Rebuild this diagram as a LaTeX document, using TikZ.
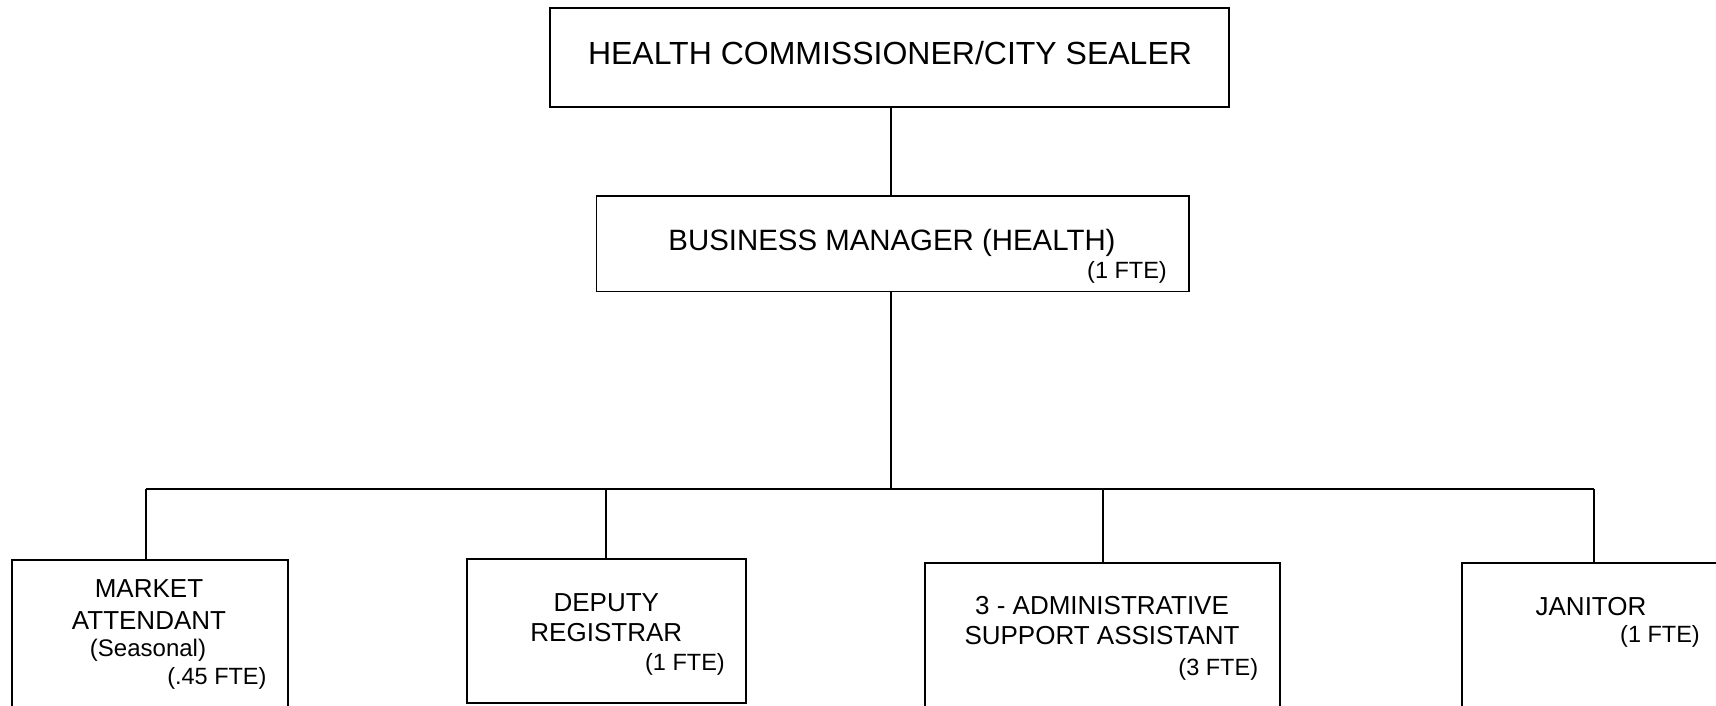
\documentclass[tikz,border=0pt]{standalone}
\usepackage{fontspec}
\setmainfont{Liberation Sans}
\begin{document}
\begin{tikzpicture}[x=1pt,y=-1pt,
  box/.style={draw=black,line width=1.8pt,rectangle,anchor=north west,inner sep=0pt,outer sep=0pt},
  conn/.style={draw=black,line width=1.8pt},
  ttl/.style={font=\fontsize{32}{37}\selectfont,inner sep=0pt,anchor=base},
  mgr/.style={font=\fontsize{29.4}{34}\selectfont,inner sep=0pt,anchor=base},
  lbl/.style={font=\fontsize{26}{30}\selectfont,inner sep=0pt,anchor=base},
  sml/.style={font=\fontsize{24}{28}\selectfont,inner sep=0pt,anchor=base},
  fte/.style={font=\fontsize{23.5}{28}\selectfont,inner sep=0pt,anchor=base east}]
\useasboundingbox (0,0) rectangle (1716,705);
\clip (0,0) rectangle (1716,705);
\fill[white] (0,0) rectangle (1716,705);

% boxes
\node[box,minimum width=679pt,minimum height=99pt] (top) at (550,8) {};
\node[box,minimum width=592.5pt,minimum height=95.5pt] (bm) at (596.5,196) {};
\node[box,minimum width=276.3pt,minimum height=200pt] (mkt) at (11.7,560) {};
\node[box,minimum width=278.4pt,minimum height=143.7pt] (dep) at (467.3,559) {};
\node[box,minimum width=355pt,minimum height=200pt] (adm) at (925,563) {};
\node[box,minimum width=400pt,minimum height=200pt] (jan) at (1462,563.3) {};

% connectors
\coordinate (trunk) at (891,489);
\coordinate (busL) at (146,489);
\coordinate (busD) at (606,489);
\coordinate (busA) at (1103,489);
\coordinate (busR) at (1594,489);
\draw[conn] (trunk |- top.south) -- (trunk |- bm.north);
\draw[conn] (trunk |- bm.south) -- (trunk);
\draw[conn] (busL) -- (busR);
\draw[conn] (busL) -- (busL |- mkt.north);
\draw[conn] (busD) -- (busD |- dep.north);
\draw[conn] (busA) -- (busA |- adm.north);
\draw[conn] (busR) -- (busR |- jan.north);

% texts
\node[ttl] (t1) at (890,64) {HEALTH COMMISSIONER/CITY SEALER};
\node[mgr] (b1) at (892,250) {BUSINESS MANAGER (HEALTH)};
\node[fte] (b2) at (1167,278.5) {(1 FTE)};

\node[lbl] (m1) at (149,597.5) {MARKET};
\node[lbl] (m2) at (149,629) {ATTENDANT};
\node[sml] (m3) at (148,656) {(Seasonal)};
\node[fte] (m4) at (266.7,684) {(.45 FTE)};

\node[lbl] (d1) at (606.3,611) {DEPUTY};
\node[lbl] (d2) at (606.3,641.7) {REGISTRAR};
\node[fte] (d3) at (725,670) {(1 FTE)};

\node[lbl] (a1) at (1102,614) {3 - ADMINISTRATIVE};
\node[lbl] (a2) at (1102,644.3) {SUPPORT ASSISTANT};
\node[fte] (a3) at (1258.3,675) {(3 FTE)};

\node[lbl] (j1) at (1591,615) {JANITOR};
\node[fte] (j2) at (1700,642) {(1 FTE)};
\end{tikzpicture}
\end{document}
